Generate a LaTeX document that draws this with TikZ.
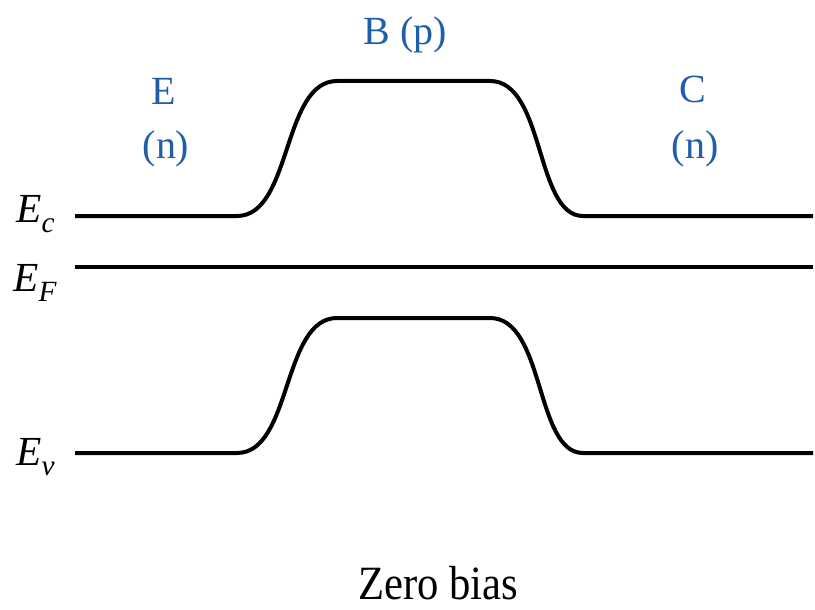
\documentclass[tikz,border=0pt]{standalone}
\usepackage{fontspec}
\setmainfont{LiberationSerif}[Extension=.ttf, UprightFont=*-Regular, ItalicFont=*-Italic, BoldFont=*-Bold]
\usepackage{graphicx}
\definecolor{labelblue}{RGB}{32,94,170}
\tikzset{
  band/.style={line width=3pt, black},
  regionlabel/.style={text=labelblue, font=\fontsize{30}{36}\selectfont, inner sep=0pt, anchor=base},
  levellabel/.style={font=\fontsize{31}{36}\selectfont\itshape, inner sep=0pt, anchor=base west},
}
\newcommand{\lvsub}[1]{\raisebox{-7.5pt}{\fontsize{22}{24}\selectfont\itshape #1}}
\begin{document}
\begin{tikzpicture}[x=0.75pt,y=-0.75pt]
\useasboundingbox (0,0) rectangle (815,610);
% conduction band
\draw[band] (75,216) -- (237,216) .. controls (292,216) and (282,81) .. (337,81) -- (490,81) .. controls (545,81) and (535,216) .. (583,216) -- (813,216);
% Fermi level
\draw[band] (75,267) -- (813,267);
% valence band
\draw[band] (75,453) -- (237,453) .. controls (292,453) and (282,318) .. (337,318) -- (490,318) .. controls (545,318) and (535,453) .. (583,453) -- (813,453);
% level labels
\node[levellabel] (ec) at (16,223) {E\lvsub{c}};
\node[levellabel] (ef) at (13,291) {E\lvsub{F}};
\node[levellabel] (ev) at (16,465) {E\lvsub{v}};
% region labels
\node[regionlabel] (eE) at (164,105) {E};
\node[regionlabel] (eN) at (166,158) {(n)};
\node[regionlabel] (bP) at (405,45) {B (p)};
\node[regionlabel] (cC) at (693,103) {C};
\node[regionlabel] (cN) at (695,158) {(n)};
% caption
\node[inner sep=0pt, anchor=base] (cap) at (438,599) {\scalebox{1}[1.12]{\fontsize{32}{38}\selectfont Zero bias}};
\end{tikzpicture}
\end{document}
